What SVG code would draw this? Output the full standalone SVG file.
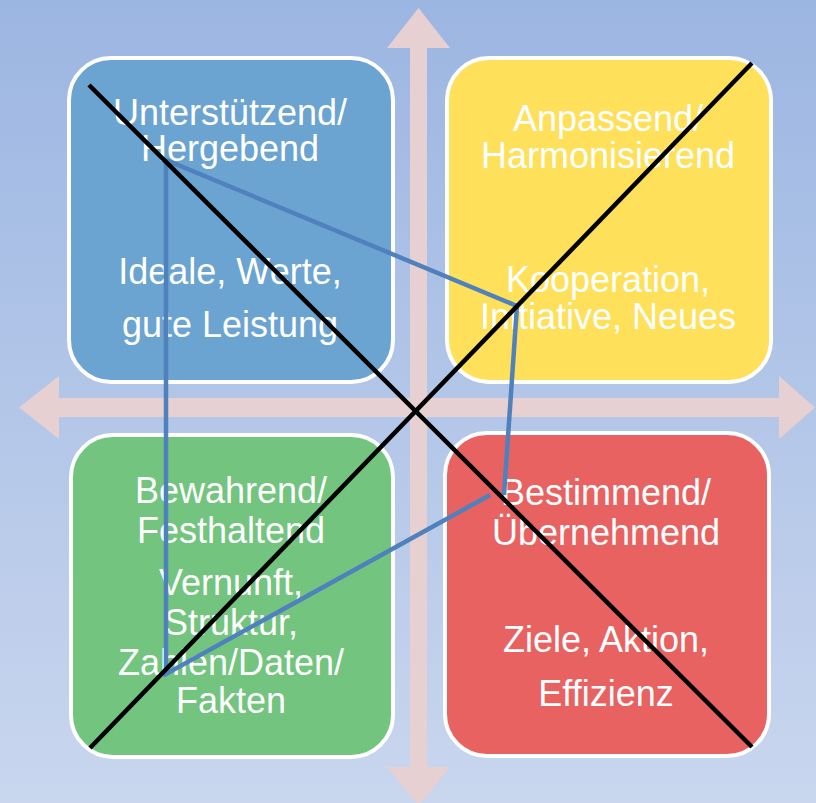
<svg xmlns="http://www.w3.org/2000/svg" width="816" height="803" viewBox="0 0 816 803">
<defs>
<linearGradient id="bg" x1="0" y1="0" x2="0" y2="1">
<stop offset="0" stop-color="#9CB6E2"/>
<stop offset="1" stop-color="#C9D6EE"/>
</linearGradient>
<style>
.box{stroke:#FFFFFF;stroke-width:4}
.t{font-family:"Liberation Sans",Arial,sans-serif;font-size:36px;fill:#FFFFFF;text-anchor:middle}
.arrow{fill:#E6D0D2}
.x{stroke:#000000;stroke-width:4.5;fill:none}
.poly{stroke:#4F81BD;stroke-width:4.5;fill:none;stroke-linejoin:miter}
</style>
</defs>
<rect x="0" y="0" width="816" height="803" fill="url(#bg)"/>
<g id="axes">
<rect class="arrow" x="59" y="398" width="720" height="19"/>
<polygon class="arrow" points="19,407.5 59,376 59,439"/>
<polygon class="arrow" points="815,407.5 779,376 779,439"/>
<rect class="arrow" x="410" y="48" width="17" height="719"/>
<polygon class="arrow" points="418.5,8 387,48 450,48"/>
<polygon class="arrow" points="418.5,806 387,767 450,767"/>
</g>
<g id="supporting">
<rect class="box" x="69" y="58" width="324" height="324" rx="42" fill="#6BA3D1"/>
<text class="t" x="230" y="125">Unterstützend/</text>
<text class="t" x="230" y="161">Hergebend</text>
<text class="t" x="230" y="284">Ideale, Werte,</text>
<text class="t" x="230" y="337">gute Leistung</text>
</g>
<g id="adapting">
<rect class="box" x="447" y="58" width="324" height="324" rx="42" fill="#FFE05B"/>
<text class="t" x="608" y="131">Anpassend/</text>
<text class="t" x="608" y="168">Harmonisierend</text>
<text class="t" x="608" y="292">Kooperation,</text>
<text class="t" x="608" y="329">Initiative, Neues</text>
</g>
<g id="preserving">
<rect class="box" x="71" y="435" width="322" height="322" rx="42" fill="#72C47E"/>
<text class="t" x="231" y="503">Bewahrend/</text>
<text class="t" x="231" y="543">Festhaltend</text>
<text class="t" x="231" y="595">Vernunft,</text>
<text class="t" x="231" y="635">Struktur,</text>
<text class="t" x="231" y="675">Zahlen/Daten/</text>
<text class="t" x="231" y="713">Fakten</text>
</g>
<g id="directing">
<rect class="box" x="445" y="433" width="324" height="323" rx="42" fill="#E86262"/>
<text class="t" x="606" y="505">Bestimmend/</text>
<text class="t" x="606" y="545">Übernehmend</text>
<text class="t" x="606" y="652">Ziele, Aktion,</text>
<text class="t" x="606" y="706">Effizienz</text>
</g>
<g id="connectors">
<polyline class="poly" points="166,160 517,306 504,495"/>
<polyline class="poly" points="490,495 166,674 166,160"/>
<line class="x" x1="89" y1="85" x2="752" y2="747"/>
<line class="x" x1="752" y1="63" x2="90" y2="748"/>
</g>
</svg>
